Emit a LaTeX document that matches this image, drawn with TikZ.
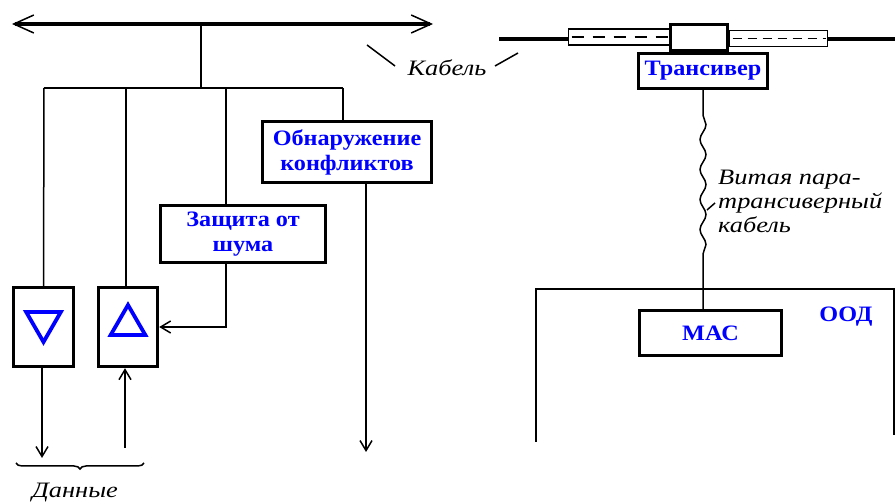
\documentclass[tikz,border=0pt]{standalone}
\usepackage{fontspec}
\setmainfont{Liberation Serif}
\newfontfamily\labelfont[FakeStretch=1.1]{Liberation Serif}
\newfontfamily\notefont[FakeStretch=1.2]{Liberation Serif}
\usetikzlibrary{arrows.meta,positioning,shapes.geometric,calc,decorations.pathmorphing,decorations.pathreplacing}
\definecolor{labelblue}{RGB}{0,0,255}

\tikzset{
  unit/.style={draw, line width=3.4pt, fill=white, inner sep=0pt, align=center,
    text=labelblue, font=\labelfont\bfseries\fontsize{22}{25}\selectfont},
  wire/.style={line width=1.5pt},
  sig/.style={wire, -{Straight Barb[length=10pt,width=12pt]}},
  note/.style={inner sep=0pt, font=\notefont\itshape\fontsize{22}{24}\selectfont},
  tube/.style={draw, line width=1.8pt, inner sep=0pt, fill=white},
  sign/.style={regular polygon, regular polygon sides=3, draw=labelblue,
    line width=3.8pt, minimum size=40pt, inner sep=0pt}
}

\begin{document}
\begin{tikzpicture}[x=1pt, y=-1pt]
  \useasboundingbox (0,0) rectangle (895,502);

  % left half: the bus and the functional blocks
  \coordinate (busL) at (12,24);
  \coordinate (busR) at (433,24);
  \coordinate (tap) at (201,24);
  \coordinate (fork) at (201,88);
  \coordinate (drop1) at (44,88);
  \coordinate (drop2) at (126,88);
  \coordinate (drop3) at (226,88);
  \coordinate (drop4) at (343,88);

  \node[unit, minimum width=60pt, minimum height=79pt] (dnbox) at (43.5,327) {};
  \node[unit, minimum width=59pt, minimum height=79pt] (upbox) at (128,327) {};
  \node[unit, minimum width=165pt, minimum height=57pt] (noise) at (243,234) {Защита от\\шума};
  \node[unit, minimum width=169pt, minimum height=61pt] (coll) at (347,152) {Обнаружение\\конфликтов};

  \node[sign, shape border rotate=180] (dnsign) at ($(dnbox.center)+(0,-5)$) {};
  \node[sign] (upsign) at ($(upbox.center)+(0,-2)$) {};

  \coordinate (dnout) at (42,458);
  \coordinate (upin) at (125,448);
  \coordinate (collout) at (366,452);

  \draw[line width=4.5pt,
    {Straight Barb[length=20pt,width=18pt,line width=1.5pt]}-{Straight Barb[length=20pt,width=18pt,line width=1.5pt]}]
    (busL) -- (busR);
  \draw[wire] (tap) -- (fork);
  \draw[wire] (drop1) -- (drop4);
  \draw[wire] (drop1) -- (dnbox.north);
  \draw[wire] (drop2) -- (drop2 |- upbox.north);
  \draw[wire] (drop3) -- (drop3 |- noise.north);
  \draw[wire] (drop4) -- (drop4 |- coll.north);
  \draw[sig] (drop3 |- noise.south) |- (upbox.east);
  \draw[sig] (collout |- coll.south) -- (collout);
  \draw[sig] (dnout |- dnbox.south) -- (dnout);
  \draw[sig] (upin) -- (upin |- upbox.south);

  \draw[wire, decorate, decoration={brace, mirror, amplitude=6pt}] (16,463) -- (144,463);
  \node[note] (data) at (75,493) {Данные};

  \node[note] (cablelbl) at (447,68) {Кабель};
  \draw[wire] (367,45) -- (395,66);
  \draw[wire] (495,66) -- (518,53);

  % right half: transceiver on the cable and the DTE
  \coordinate (cabL) at (499,39);
  \coordinate (cabR) at (895,39);
  \node[tube, minimum width=101pt, minimum height=16pt] (tubeL) at (619,37) {};
  \node[tube, minimum width=98pt, minimum height=16pt] (tubeR) at (778.5,38.5) {};
  \draw[line width=4.5pt] (cabL) -- (cabL -| tubeL.west);
  \draw[line width=4.5pt] (cabR -| tubeR.east) -- (cabR);
  \draw[wire, dash pattern=on 12pt off 9pt] ($(tubeL.west)+(4,0)$) -- ($(tubeL.east)+(-2,0)$);
  \draw[wire, dash pattern=on 9pt off 6pt] ($(tubeR.west)+(4,0)$) -- ($(tubeR.east)+(-2,0)$);
  \node[unit, line width=3pt, minimum width=57pt, minimum height=26pt] (plug) at (699,38) {};
  \node[unit, minimum width=129pt, minimum height=35pt] (tx) at (703,71) {Трансивер};

  \coordinate (oodL) at (536,442);
  \coordinate (oodR) at (894,435);
  \draw[wire] (oodL) |- (894,289) -- (oodR);
  \node[unit, minimum width=142pt, minimum height=45pt] (mac) at (710.5,333) {МАС};
  \node[text=labelblue, inner sep=0pt, font=\labelfont\bfseries\fontsize{22}{25}\selectfont] (dte) at (846,317) {ООД};

  \draw[wire] (tx.south) -- ++(0,25)
    decorate[decoration={snake, segment length=30pt, amplitude=3pt}] {-- ++(0,148)}
    -- (tx.south |- mac.north);
  \node[note, align=left, anchor=west] (twisted) at (718,201) {Витая пара-\\трансиверный\\кабель};
  \draw[wire] (707,210) -- (715,203);
\end{tikzpicture}
\end{document}
